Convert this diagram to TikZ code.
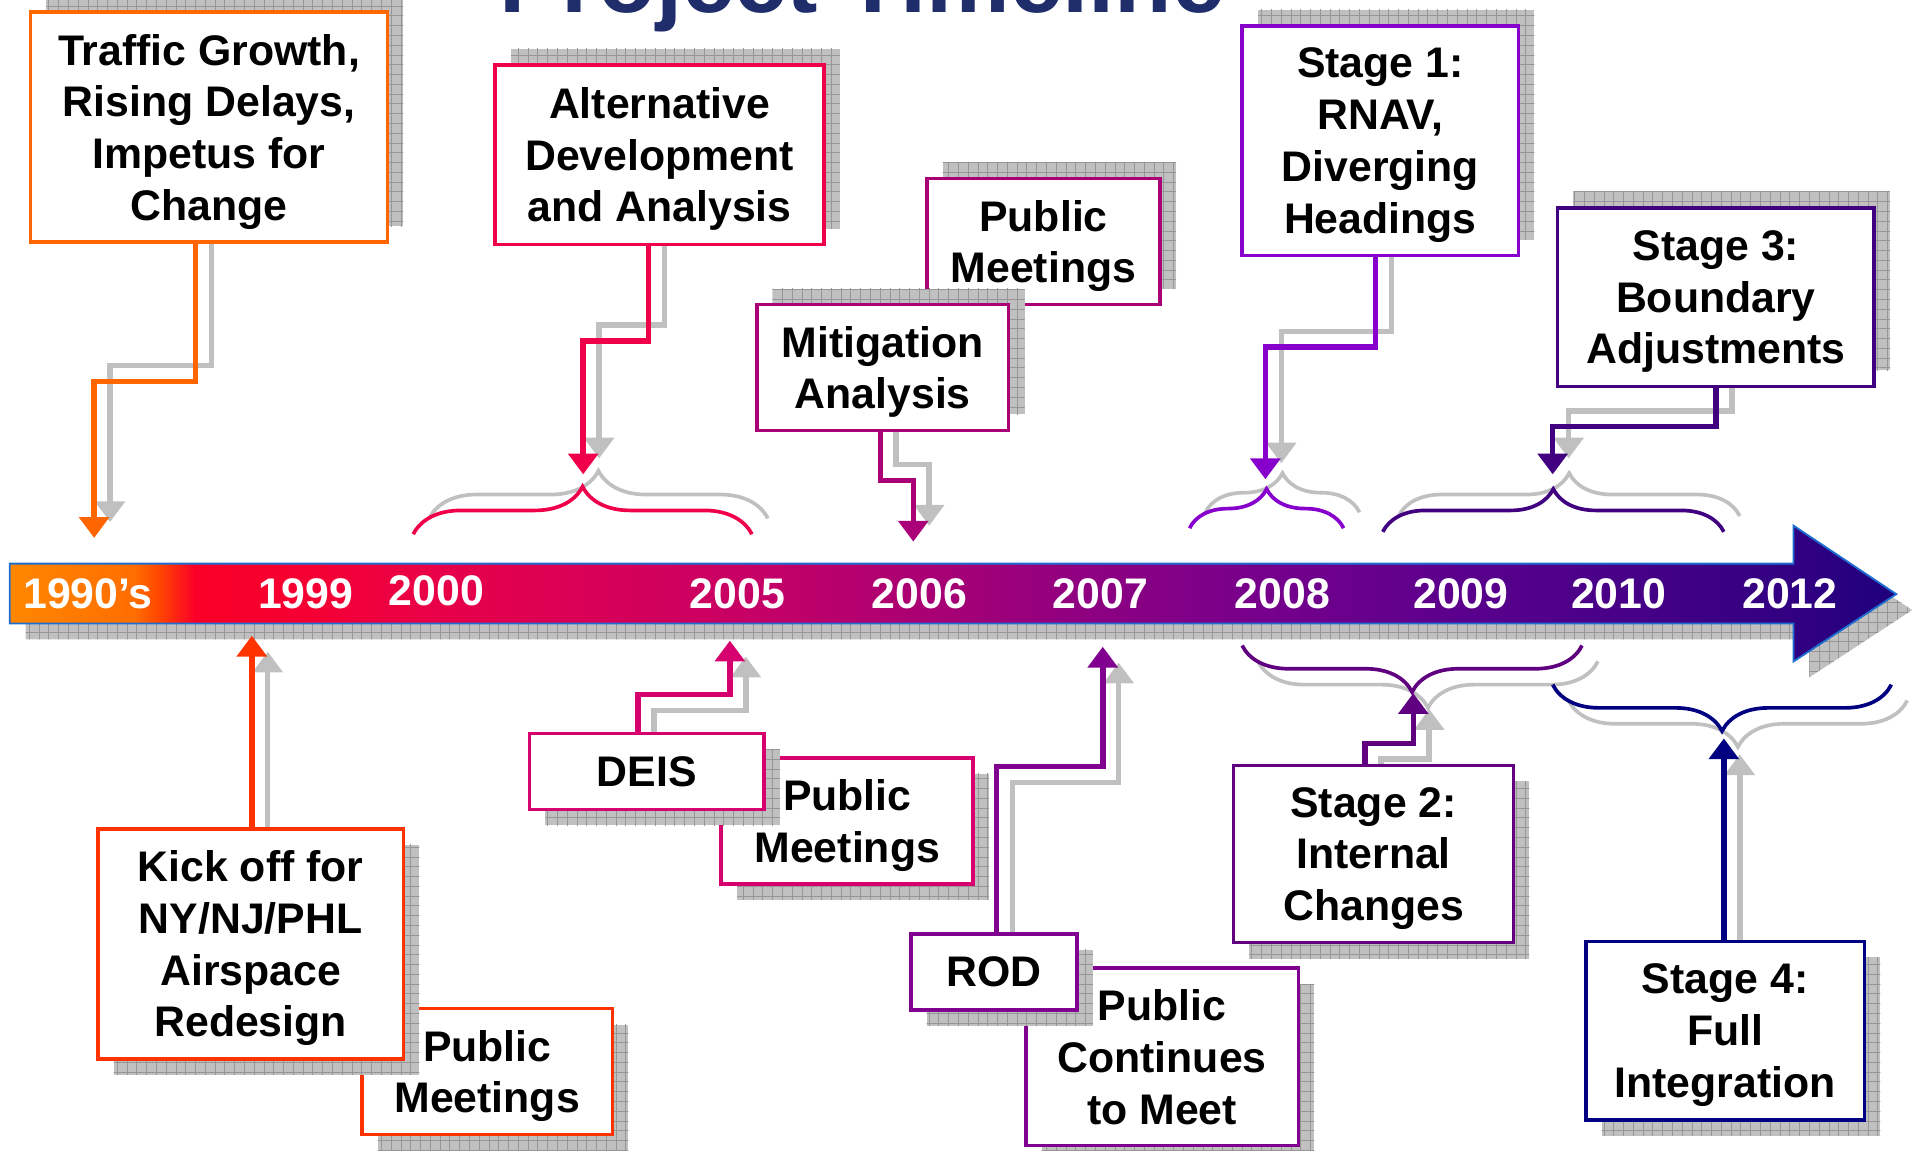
\documentclass[tikz,border=0pt]{standalone}
\usepackage{fontspec}
\setmainfont{Liberation Sans}
\usetikzlibrary{arrows.meta,decorations.pathreplacing,shadows,patterns,backgrounds}

\definecolor{titleblue}{RGB}{31,45,107}
\definecolor{barline}{RGB}{30,110,210}
\definecolor{shadowgray}{RGB}{192,192,192}
\definecolor{gridgray}{RGB}{150,150,150}
\definecolor{cTraffic}{RGB}{255,102,0}
\definecolor{cKick}{RGB}{255,51,0}
\definecolor{cAlt}{RGB}{240,0,75}
\definecolor{cDeis}{RGB}{214,0,110}
\definecolor{cMit}{RGB}{170,0,120}
\definecolor{cRod}{RGB}{128,0,144}
\definecolor{cStageA}{RGB}{136,0,204}
\definecolor{cStageB}{RGB}{96,0,128}
\definecolor{cStageC}{RGB}{64,0,128}
\definecolor{cStageD}{RGB}{0,0,128}
% bar colours, left to right
\definecolor{barA}{RGB}{255,135,0}
\definecolor{barB}{RGB}{255,110,0}
\definecolor{barC}{RGB}{255,70,0}
\definecolor{barD}{RGB}{250,0,40}
\definecolor{barE}{RGB}{245,0,50}
\definecolor{barF}{RGB}{232,0,72}
\definecolor{barG}{RGB}{200,0,100}
\definecolor{barH}{RGB}{170,0,115}
\definecolor{barI}{RGB}{140,0,130}
\definecolor{barJ}{RGB}{115,0,140}
\definecolor{barK}{RGB}{90,0,140}
\definecolor{barL}{RGB}{72,0,135}
\definecolor{barM}{RGB}{50,0,130}
\definecolor{barN}{RGB}{30,0,125}

\pgfdeclarehorizontalshading{timebar}{100bp}{color(0bp)=(barA); color(25bp)=(barA);
  color(28.3bp)=(barB); color(28.95bp)=(barC); color(29.9bp)=(barD); color(32.8bp)=(barE);
  color(36.3bp)=(barF); color(44.3bp)=(barG); color(49.1bp)=(barH); color(53.9bp)=(barI);
  color(58.7bp)=(barJ); color(63.5bp)=(barK); color(67.6bp)=(barL); color(72.2bp)=(barM);
  color(75bp)=(barN); color(100bp)=(barN)}

\pgfdeclarepatternformonly{shadegrid}{\pgfqpoint{-1pt}{-1pt}}{\pgfqpoint{9pt}{9pt}}{\pgfqpoint{8pt}{8pt}}{%
  \pgfsetlinewidth{0.8pt}
  \pgfpathmoveto{\pgfqpoint{0pt}{0pt}}\pgfpathlineto{\pgfqpoint{0pt}{8.1pt}}
  \pgfpathmoveto{\pgfqpoint{0pt}{0pt}}\pgfpathlineto{\pgfqpoint{8.1pt}{0pt}}
  \pgfusepath{stroke}}

\newcommand\tlfont{\fontsize{35}{42.3}\selectfont\bfseries}

\tikzset{
  box/.style={draw=#1, line width=3pt, fill=white, align=center, inner sep=0pt, font=\tlfont,
    text depth=-4pt},
  year/.style={text=white, font=\tlfont, inner sep=0pt},
  link/.style={line width=4.5pt, -{Triangle[width=24pt,length=17pt]}},
  bracelook/.style={decorate, line width=3pt},
  upshadow/.style={drop shadow={shadow xshift=13pt, shadow yshift=13pt, opacity=1,
      fill=shadowgray, postaction={pattern=shadegrid, pattern color=gridgray}}},
  downshadow/.style={drop shadow={shadow xshift=13pt, shadow yshift=-13pt, opacity=1,
      fill=shadowgray, postaction={pattern=shadegrid, pattern color=gridgray}}}
}

% #1 colour, #2 shadow shift, #3 path
\newcommand\tllink[3]{%
  \draw[link, draw=shadowgray, transform canvas={shift={#2}}] #3;
  \draw[link, draw=#1] #3;}
% #1 colour, #2 shadow shift, #3 brace options, #4 path
\newcommand\tlbrace[4]{%
  \draw[bracelook, draw=shadowgray, transform canvas={shift={#2}}, decoration={brace, #3}] #4;
  \draw[bracelook, draw=#1, decoration={brace, #3}] #4;}

\begin{document}
\begin{tikzpicture}[x=1pt, y=-1pt]
  \useasboundingbox (0,0) rectangle (1568,941);
  \clip (0,0) rectangle (1568,941);

  \node[anchor=base, text=titleblue, font=\fontsize{77}{80}\selectfont\bfseries] (title) at (705,10) {Project Timeline};

  % boxes above the bar
  \node[box=cTraffic, upshadow, minimum width=292pt, minimum height=188pt] (traffic) at (171,104)
    {Traffic Growth,\\Rising Delays,\\Impetus for\\Change};
  \node[box=cAlt, upshadow, minimum width=269pt, minimum height=147pt] (alt) at (539.5,126.5)
    {Alternative\\Development\\and Analysis};
  \node[box=cMit, upshadow, minimum width=191pt, minimum height=103pt] (meetA) at (853.5,197.5)
    {Public\\Meetings};
  \node[box=cMit, upshadow, minimum width=206pt, minimum height=103pt] (mit) at (722,300.5)
    {Mitigation\\Analysis};
  \node[box=cStageA, upshadow, minimum width=226pt, minimum height=188pt] (stageA) at (1129,115)
    {Stage 1:\\RNAV,\\Diverging\\Headings};
  \node[box=cStageC, upshadow, minimum width=259pt, minimum height=146pt] (stageC) at (1403.5,243)
    {Stage 3:\\Boundary\\Adjustments};

  % boxes below the bar
  \node[box=cKick, downshadow, minimum width=205pt, minimum height=103pt] (meetB) at (398.5,876.5)
    {Public\\Meetings};
  \node[box=cKick, downshadow, minimum width=250pt, minimum height=188pt] (kick) at (205,772)
    {Kick off for\\NY/NJ/PHL\\Airspace\\Redesign};
  \node[box=cDeis, downshadow, minimum width=206pt, minimum height=103pt] (meetC) at (693,671.5)
    {Public\\Meetings};
  \node[box=cDeis, downshadow, minimum width=192pt, minimum height=62pt, text depth=0pt] (deis) at (529,631) {DEIS};
  \node[box=cRod, downshadow, minimum width=223pt, minimum height=145pt, text depth=0pt] (meetD) at (950.5,864.5)
    {Public\\Continues\\to Meet};
  \node[box=cRod, downshadow, minimum width=136pt, minimum height=62pt, text depth=0pt] (rod) at (813,795) {ROD};
  \node[box=cStageB, downshadow, minimum width=229pt, minimum height=145pt] (stageB) at (1123.5,698.5)
    {Stage 2:\\Internal\\Changes};
  \node[box=cStageD, downshadow, minimum width=228pt, minimum height=146pt] (stageD) at (1411,843)
    {Stage 4:\\Full\\Integration};

  \begin{scope}[on background layer]
    \shade[shading=timebar, draw=barline, line width=1.5pt, downshadow]
      (8,461) -- (1467,461) -- (1467,430) -- (1551,486) -- (1467,541) -- (1467,510) -- (8,510) -- cycle;
    \node[year] (y1990) at (72,486) {1990’s};
    \node[year] (y1999) at (250,486) {1999};
    \node[year] (y2000) at (357,483) {2000};
    \node[year] (y2005) at (603,486) {2005};
    \node[year] (y2006) at (752,486) {2006};
    \node[year] (y2007) at (900,486) {2007};
    \node[year] (y2008) at (1049,486) {2008};
    \node[year] (y2009) at (1195,486) {2009};
    \node[year] (y2010) at (1324,486) {2010};
    \node[year] (y2012) at (1464,486) {2012};

    \tlbrace{cAlt}{(13,-13)}{amplitude=39pt}{(338,437) -- (615,437)}
    \tlbrace{cStageA}{(13,-13)}{amplitude=32pt}{(973,432) -- (1099,432)}
    \tlbrace{cStageC}{(13,-13)}{amplitude=35pt}{(1131,435) -- (1410,435)}
    \tlbrace{cStageB}{(13,13)}{amplitude=38pt, mirror}{(1016,528) -- (1294,528)}
    \tlbrace{cStageD}{(13,13)}{amplitude=38pt, mirror}{(1270,560) -- (1547,560)}

    \coordinate (tTraffic) at (77,440);
    \coordinate (tAlt) at (477,388);
    \coordinate (tMit) at (747,443);
    \coordinate (tStageA) at (1035,392);
    \coordinate (tStageC) at (1270,388);
    \coordinate (tKick) at (206,520);
    \coordinate (tDeis) at (597,524);
    \coordinate (tRod) at (902,529);
    \coordinate (tStageB) at (1156,567);
    \coordinate (tStageD) at (1410,604);

    \tllink{cTraffic}{(13,-13)}{([xshift=-11pt]traffic.south) |- (77,312) -- (tTraffic)}
    \tllink{cAlt}{(13,-13)}{([xshift=-9pt]alt.south) |- (477,279) -- (tAlt)}
    \tllink{cMit}{(13,-13)}{([xshift=-2pt]mit.south) |- (747,393) -- (tMit)}
    \tllink{cStageA}{(13,-13)}{([xshift=-4pt]stageA.south) |- (1035,284) -- (tStageA)}
    \tllink{cStageC}{(13,-13)}{(stageC.south) |- (1270,349) -- (tStageC)}
    \tllink{cKick}{(13,13)}{(kick.north -| tKick) -- (tKick)}
    \tllink{cDeis}{(13,13)}{([xshift=-7pt]deis.north) |- (597,568) -- (tDeis)}
    \tllink{cRod}{(13,13)}{([xshift=2pt]rod.north) |- (902,627) -- (tRod)}
    \tllink{cStageB}{(13,13)}{([xshift=-7pt]stageB.north) |- (1156,608) -- (tStageB)}
    \tllink{cStageD}{(13,13)}{(stageD.north -| tStageD) -- (tStageD)}
  \end{scope}
\end{tikzpicture}
\end{document}
